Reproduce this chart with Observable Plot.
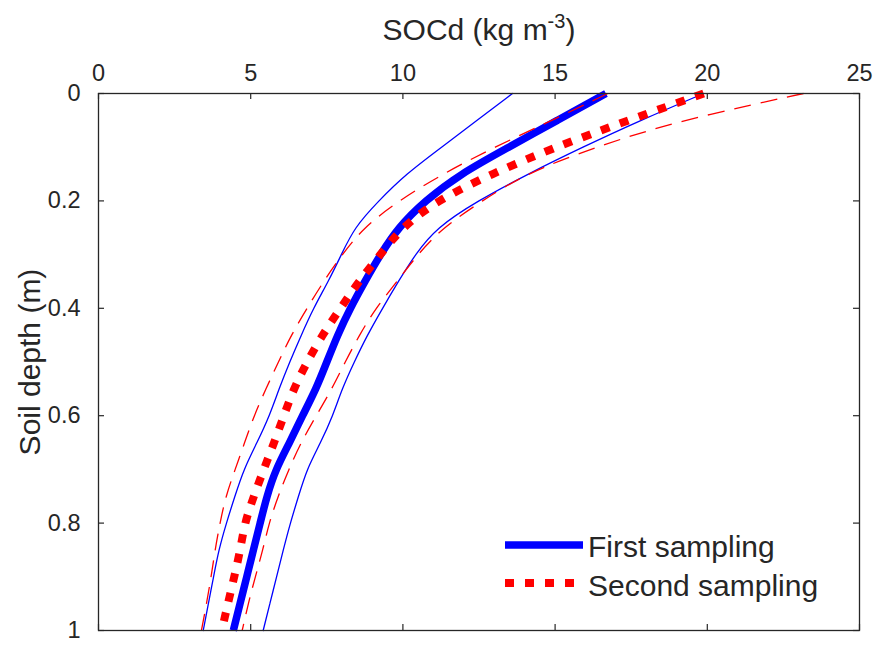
<!DOCTYPE html>
<html>
<head>
<meta charset="utf-8">
<script src="https://cdn.jsdelivr.net/npm/d3@7"></script>
<script src="https://cdn.jsdelivr.net/npm/@observablehq/plot@0.6"></script>
<style>
  html, body { margin: 0; padding: 0; background: #fff; }
</style>
</head>
<body>
<div id="chart"></div>
<script>
// ---- Data ----
const depth       = [0, 0.05, 0.1, 0.15, 0.2, 0.25, 0.3, 0.35, 0.4, 0.45, 0.5, 0.55, 0.6, 0.65, 0.7, 0.75, 0.8, 0.85, 0.9, 0.95, 1.0];
const firstMean   = [16.67, 15.07, 13.48, 11.88, 10.72, 9.84, 9.26, 8.75, 8.27, 7.85, 7.5, 7.15, 6.7, 6.28, 5.82, 5.53, 5.31, 5.09, 4.87, 4.65, 4.43];
const firstLower  = [13.6, 12.44, 11.27, 10.1, 9.2, 8.4, 7.98, 7.55, 7.06, 6.66, 6.28, 5.93, 5.62, 5.21, 4.77, 4.48, 4.2, 3.95, 3.78, 3.61, 3.44];
const firstUpper  = [19.88, 17.8, 15.9, 14.1, 12.45, 11.1, 10.4, 9.85, 9.33, 8.83, 8.4, 8.0, 7.7, 7.3, 6.84, 6.57, 6.3, 6.07, 5.85, 5.63, 5.41];
const secondMean  = [19.88, 17.4, 15.0, 12.9, 11.1, 9.96, 9.26, 8.55, 7.95, 7.35, 6.85, 6.41, 6.09, 5.77, 5.43, 5.1, 4.8, 4.66, 4.46, 4.25, 4.05];
const secondLower = [16.73, 14.9, 13.0, 11.3, 9.85, 8.7, 8.0, 7.39, 6.85, 6.33, 5.91, 5.5, 5.11, 4.8, 4.49, 4.18, 3.99, 3.83, 3.7, 3.55, 3.38];
const secondUpper = [23.16, 19.1, 16.3, 14.0, 12.6, 11.3, 10.48, 9.81, 9.1, 8.57, 8.1, 7.67, 7.15, 6.65, 6.25, 5.9, 5.6, 5.4, 5.15, 4.92, 4.72];

const xTicks = [0, 5, 10, 15, 20, 25];
const yTicks = [0, 0.2, 0.4, 0.6, 0.8, 1];
const xTickLabels = ["0", "5", "10", "15", "20", "25"];
const yTickLabels = ["0", "0.2", "0.4", "0.6", "0.8", "1"];
const xLabel = "SOCd (kg m-3)";
const yLabel = "Soil depth (m)";
const seriesNames = ["First sampling", "Second sampling"];

// ---- Layout / style ----
const W = 879, H = 646;
const mL = 98, mR = 20, mT = 93, mB = 16;
const pw = W - mL - mR, ph = H - mT - mB;
const ink = "#262626";
const BLUE = "#0000ff", RED = "#ff0000";
const FONT = "'Liberation Sans', Arial, Helvetica, sans-serif";
const tickLen = 6;
const CURVE = "basis";

const rows = vals => depth.map((d, i) => ({depth: d, v: vals[i]}));

const chart = Plot.plot({
  width: W, height: H,
  marginLeft: mL, marginRight: mR, marginTop: mT, marginBottom: mB,
  style: {fontFamily: FONT, color: ink, background: "#fff", overflow: "visible"},
  x: {domain: [0, 25]},
  y: {domain: [0, 1], reverse: true},
  marks: [
    Plot.axisX({anchor: "top", ticks: xTicks, tickSize: 0, tickPadding: 13, fontSize: 23.5, label: null,
                tickFormat: d => xTickLabels[xTicks.indexOf(d)]}),
    Plot.axisY({anchor: "left", ticks: yTicks, tickSize: 0, tickPadding: 18, fontSize: 23.5, label: null,
                tickFormat: d => yTickLabels[yTicks.indexOf(d)]}),
    // inward ticks on all four sides
    Plot.ruleX(xTicks, {x: d => d, insetBottom: ph - tickLen, stroke: ink, strokeWidth: 1.2}),
    Plot.ruleX(xTicks, {x: d => d, insetTop: ph - tickLen, stroke: ink, strokeWidth: 1.2}),
    Plot.ruleY(yTicks, {y: d => d, insetRight: pw - tickLen, stroke: ink, strokeWidth: 1.2}),
    Plot.ruleY(yTicks, {y: d => d, insetLeft: pw - tickLen, stroke: ink, strokeWidth: 1.2}),
    // first sampling
    Plot.line(rows(firstLower), {x: "v", y: "depth", stroke: BLUE, strokeWidth: 1.3, curve: CURVE}),
    Plot.line(rows(firstUpper), {x: "v", y: "depth", stroke: BLUE, strokeWidth: 1.3, curve: CURVE}),
    Plot.line(rows(firstMean), {x: "v", y: "depth", stroke: BLUE, strokeWidth: 7.5, strokeLinecap: "butt", curve: CURVE}),
    // second sampling
    Plot.line(rows(secondMean), {x: "v", y: "depth", stroke: RED, strokeWidth: 8, strokeDasharray: "9,11", strokeLinecap: "butt", curve: CURVE}),
    Plot.line(rows(secondLower), {x: "v", y: "depth", stroke: RED, strokeWidth: 1.3, strokeDasharray: "17,10", strokeLinecap: "butt", curve: CURVE}),
    Plot.line(rows(secondUpper), {x: "v", y: "depth", stroke: RED, strokeWidth: 1.3, strokeDasharray: "17,10", strokeLinecap: "butt", curve: CURVE}),
    Plot.frame({stroke: ink, strokeWidth: 1.3}),
    // axis titles
    Plot.text([xLabel], {frameAnchor: "top", dy: -63, text: d => d, fontSize: 30, lineAnchor: "middle", textAnchor: "middle", fill: ink}),
    Plot.text([yLabel], {frameAnchor: "left", dx: -68, rotate: -90, text: d => d, fontSize: 30, lineAnchor: "middle", textAnchor: "middle", fill: ink})
  ]
});

document.getElementById("chart").append(chart);

// superscript in the x axis title
const svg = d3.select(chart);
svg.selectAll("text").filter(function() { return this.textContent === xLabel; }).each(function() {
  const t = d3.select(this);
  t.text(null);
  t.append("tspan").text("SOCd (kg m");
  t.append("tspan").attr("dy", -12).attr("font-size", 20).text("-3");
  t.append("tspan").attr("dy", 12).text(")");
});

// legend inside the plot (bottom right)
const lx1 = 505, lx2 = 583, ltx = 588;
const leg = svg.append("g").attr("font-family", FONT).attr("font-size", 30)
  .attr("fill", ink).attr("text-anchor", "start");
leg.append("line").attr("x1", lx1).attr("x2", lx2).attr("y1", 545).attr("y2", 545)
  .attr("stroke", BLUE).attr("stroke-width", 7.5);
leg.append("line").attr("x1", lx1).attr("x2", lx2).attr("y1", 583).attr("y2", 583)
  .attr("stroke", RED).attr("stroke-width", 8).attr("stroke-dasharray", "9,11");
leg.append("text").attr("x", ltx).attr("y", 546).attr("dy", "0.35em").text(seriesNames[0]);
leg.append("text").attr("x", ltx).attr("y", 585).attr("dy", "0.35em").text(seriesNames[1]);
</script>
</body>
</html>
